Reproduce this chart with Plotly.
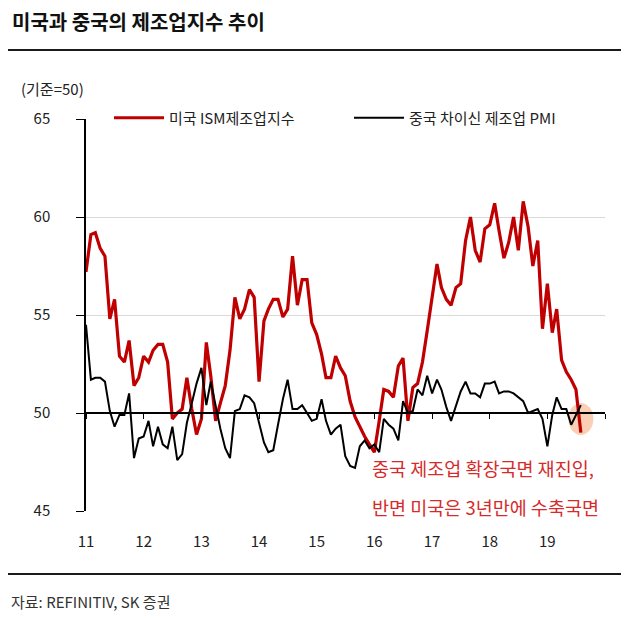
import pandas as pd
import plotly.graph_objects as go

# ---------------- data ----------------
months = pd.date_range("2011-01-01", periods=104, freq="MS")

us_ism = [
    57.2, 59.1, 59.2, 58.4, 58.0, 54.8, 55.8, 52.9, 52.6, 53.7,
    51.4, 51.8, 52.9, 52.6, 53.2, 53.5, 53.5, 52.6, 49.7, 50.0,
    50.2, 51.8, 50.2, 48.9, 49.7, 53.6, 51.9, 49.6, 50.5, 51.4,
    53.2, 55.9, 54.8, 55.3, 56.3, 55.9, 51.6, 54.7, 55.3, 55.8,
    55.8, 54.9, 55.3, 58.0, 55.5, 56.8, 56.8, 54.6, 54.0, 53.0,
    51.8, 51.8, 52.9, 52.3, 51.9, 50.6, 49.8, 49.3, 48.8, 48.4,
    48.0, 49.6, 51.2, 51.1, 50.8, 52.4, 52.8, 49.6, 51.3, 51.5,
    52.6, 54.2, 55.9, 57.6, 56.4, 55.8, 55.5, 56.4, 56.6, 58.8,
    60.0, 58.3, 57.7, 59.4, 59.6, 60.7, 59.3, 57.9, 58.7, 60.0,
    58.3, 60.8, 59.5, 57.5, 58.8, 54.3, 56.6, 54.1, 55.3, 52.7,
    52.1, 51.7, 51.2, 49.0,
]

china_caixin = [
    54.5, 51.7, 51.8, 51.8, 51.6, 50.1, 49.3, 49.9, 49.9, 51.0,
    47.7, 48.7, 48.8, 49.6, 48.3, 49.3, 48.4, 48.2, 49.3, 47.6,
    47.9, 49.5, 50.5, 51.5, 52.3, 50.4, 51.6, 50.4, 49.2, 48.2,
    47.7, 50.1, 50.2, 50.9, 50.8, 50.5, 49.5, 48.5, 48.0, 48.1,
    49.4, 50.7, 51.7, 50.2, 50.2, 50.4, 50.0, 49.6, 49.7, 50.7,
    49.6, 48.9, 49.2, 49.4, 47.8, 47.3, 47.2, 48.3, 48.6, 48.2,
    48.4, 48.0, 49.7, 49.4, 49.2, 48.6, 50.6, 50.0, 50.1, 51.2,
    50.9, 51.9, 51.0, 51.7, 51.2, 50.3, 49.6, 50.4, 51.1, 51.6,
    51.0, 51.0, 50.8, 51.5, 51.5, 51.6, 51.0, 51.1, 51.1, 51.0,
    50.8, 50.6, 50.0, 50.1, 50.2, 49.7, 48.3, 49.9, 50.8, 50.2,
    50.2, 49.4, 49.9, 50.4,
]

year_ticks = pd.date_range("2011-01-01", "2019-01-01", freq="YS")
year_labels = ["11", "12", "13", "14", "15", "16", "17", "18", "19"]
y_ticks = [45, 50, 55, 60, 65]
x_end = "2020-01-01"
baseline = 50

series_names = ["미국 ISM제조업지수", "중국 차이신 제조업 PMI"]
title_text = "미국과 중국의 제조업지수 추이"
unit_text = "(기준=50)"
note_lines = ["중국 제조업 확장국면 재진입,", "반면 미국은 3년만에 수축국면"]
source_text = "자료: REFINITIV, SK 증권"

# ---------------- figure ----------------
FONT = "Noto Sans CJK KR"
PAGE_OFF = 8                      # default body margin of the html page
W, H = 630 - PAGE_OFF, 622 - PAGE_OFF
L, R, T, B = 86 - PAGE_OFF, 25, 119 - PAGE_OFF, 111
PX0, PY1 = 86, 511                # plot-area left / bottom on screen
PW, PH = W - L - R, H - T - B


def px_x(p):
    return (p - PX0) / PW


def px_y(p):
    return (PY1 - p) / PH


fig = go.Figure()
fig.add_trace(go.Scatter(
    x=months, y=us_ism, mode="lines", name=series_names[0],
    line=dict(color="#c00000", width=3.2), xaxis="x", yaxis="y",
    legend="legend", hoverinfo="x+y",
))
fig.add_trace(go.Scatter(
    x=months, y=china_caixin, mode="lines", name=series_names[1],
    line=dict(color="#000000", width=2), xaxis="x2", yaxis="y",
    legend="legend2", hoverinfo="x+y",
))

legend_style = dict(
    orientation="h", y=px_y(118), xanchor="left", yanchor="middle",
    bgcolor="rgba(255,255,255,0)",
    font=dict(family=FONT, size=15, color="#222222"),
    itemwidth=50,
)

fig.update_layout(
    width=W, height=H,
    margin=dict(l=L, r=R, t=T, b=B, autoexpand=False),
    paper_bgcolor="white", plot_bgcolor="white",
    font=dict(family=FONT, size=15, color="#222222"),
    title=dict(
        text="<b>" + title_text + "</b>",
        x=4 / W, y=1 - (23 - PAGE_OFF) / H, xref="container", yref="container",
        xanchor="left", yanchor="middle",
        font=dict(family=FONT, size=20, color="#111111"),
    ),
    xaxis=dict(
        range=[months[0], x_end],
        tickvals=list(year_ticks), ticktext=year_labels,
        showline=False, showgrid=False, zeroline=False,
        ticks="", ticklabelstandoff=20,
        tickfont=dict(size=15, color="#222222"),
    ),
    xaxis2=dict(
        overlaying="x", matches="x", anchor="free",
        position=(baseline - y_ticks[0]) / (y_ticks[-1] - y_ticks[0]),
        showline=True, linecolor="#000000", linewidth=1.5,
        ticks="outside", ticklen=5, tickwidth=1, tickcolor="#000000",
        dtick="M12", tick0="2011-01-01",
        showticklabels=False, showgrid=False, zeroline=False,
    ),
    yaxis=dict(
        range=[y_ticks[0], y_ticks[-1]], tickvals=y_ticks,
        showline=True, linecolor="#000000", linewidth=1.5,
        ticks="outside", ticklen=8, tickwidth=1, tickcolor="#000000",
        ticklabelstandoff=23,
        showgrid=True, gridcolor="#d9d9d9", gridwidth=1, zeroline=False,
        tickfont=dict(size=15, color="#222222"),
    ),
    showlegend=True,
    legend=dict(x=px_x(109), **legend_style),
    legend2=dict(x=px_x(349), **legend_style),
)

# title rule and source rule
fig.add_shape(type="line", xref="paper", yref="paper",
              x0=px_x(8), x1=px_x(621), y0=px_y(50), y1=px_y(50),
              line=dict(color="#1a1a1a", width=2))
fig.add_shape(type="line", xref="paper", yref="paper",
              x0=px_x(8), x1=px_x(621), y0=px_y(574), y1=px_y(574),
              line=dict(color="#1a1a1a", width=2))

# highlight ellipse at the last observation
fig.add_shape(
    type="circle", xref="x", yref="y",
    xsizemode="pixel", ysizemode="pixel",
    xanchor=months[-1], yanchor=(us_ism[-1] + china_caixin[-1]) / 2,
    x0=-12.5, x1=12.5, y0=-16, y1=16,
    fillcolor="rgba(244,170,120,0.55)", line=dict(width=0),
    layer="between",
)

fig.add_annotation(text=unit_text, xref="paper", yref="paper",
                   x=px_x(19), y=px_y(88), xanchor="left", yanchor="middle",
                   showarrow=False, font=dict(size=15, color="#222222"))
fig.add_annotation(text=note_lines[0], xref="paper", yref="paper",
                   x=px_x(370), y=px_y(468), xanchor="left", yanchor="middle",
                   showarrow=False, font=dict(size=18.5, color="#d62b2b"))
fig.add_annotation(text=note_lines[1], xref="paper", yref="paper",
                   x=px_x(370), y=px_y(507), xanchor="left", yanchor="middle",
                   showarrow=False, font=dict(size=18.5, color="#d62b2b"))
fig.add_annotation(text=source_text, xref="paper", yref="paper",
                   x=px_x(9), y=px_y(601), xanchor="left", yanchor="middle",
                   showarrow=False, font=dict(size=15, color="#333333"))

fig.write_html("out.html")
